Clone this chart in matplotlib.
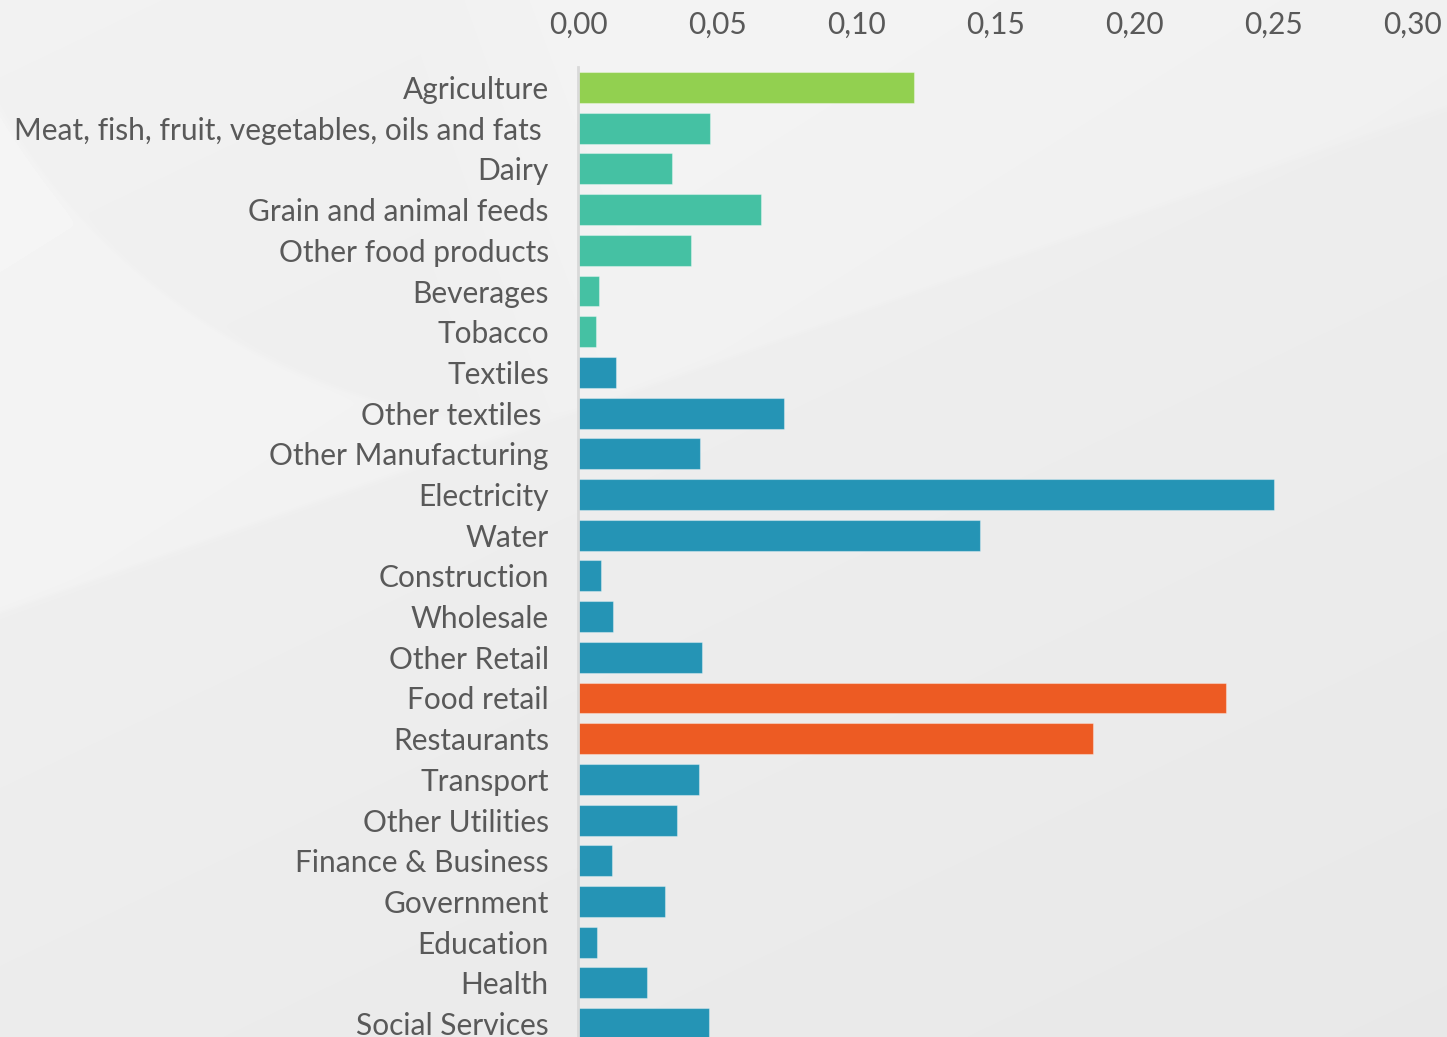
import matplotlib
matplotlib.use("Agg")
import matplotlib.pyplot as plt
import numpy as np
from matplotlib.ticker import FuncFormatter

# secteurs, du haut vers le bas
secteurs = ["Agriculture", "Meat, fish, fruit, vegetables, oils and fats ", "Dairy",
            "Grain and animal feeds", "Other food products", "Beverages", "Tobacco",
            "Textiles", "Other textiles ", "Other Manufacturing", "Electricity", "Water",
            "Construction", "Wholesale", "Other Retail", "Food retail", "Restaurants",
            "Transport", "Other Utilities", "Finance & Business", "Government",
            "Education", "Health", "Social Services"]
valeurs = [0.1206, 0.0474, 0.0337, 0.0657, 0.0405, 0.0075, 0.0065,
           0.0136, 0.0739, 0.0438, 0.2501, 0.1446,
           0.0083, 0.0126, 0.0445, 0.2329, 0.1851,
           0.0434, 0.0355, 0.0122, 0.0312,
           0.0068, 0.0248, 0.0470]
groupes = ["agri"] + ["food"] * 6 + ["other"] * 8 + ["retail"] * 2 + ["other"] * 7
couleurs = {"agri": "#92D050", "food": "#45C1A3", "other": "#2594B5", "retail": "#ED5B23"}
graduations = [0.00, 0.05, 0.10, 0.15, 0.20, 0.25, 0.30]

plt.rcParams['font.family'] = ['Lato', 'DejaVu Sans']

W, H = 1447, 1037
fig = plt.figure(figsize=(W / 100, H / 100), dpi=100)

# fond : degrade gris + vague claire (arc de cercle a gauche, biais a droite)
fond = fig.add_axes([0, 0, 1, 1])
fond.axis("off")
xx, yy = np.meshgrid(np.arange(W), np.arange(H))
base = 0.947 - 0.038 * (0.6 * yy / H + 0.4 * xx / W)
sig = lambda z: 1 / (1 + np.exp(-z))
au_dessus = sig(((339 - 0.35 * (xx - 780)) - yy) / 1.5)
hors_cercle = sig((np.hypot(xx - 560, yy + 230) - 657) / 1.5)
hors_cercle = np.maximum(hors_cercle, np.clip((xx - 420) / 200, 0, 1))
clair = au_dessus * hors_cercle
img = base + 0.016 * clair * (1 - 0.3 * xx / W)
fond.imshow(img, cmap="gray", vmin=0, vmax=1, extent=[0, W, H, 0], aspect="auto",
            interpolation="nearest")

# le graphique
ax = fig.add_axes([578 / W, 0, (1413 - 578) / W, (H - 67) / H])
ax.patch.set_alpha(0)
pos = np.arange(len(secteurs))
ax.barh(pos, valeurs, height=0.76, color=[couleurs[g] for g in groupes],
        edgecolor=(1, 1, 1, 0.35), linewidth=0.8)
ax.set_xlim(0, 0.30)
ax.set_ylim(23.33, -0.504)
ax.set_yticks(pos)
ax.set_yticklabels(secteurs)
ax.set_xticks(graduations)
ax.xaxis.set_major_formatter(FuncFormatter(lambda v, p: f"{v:.2f}".replace(".", ",")))
ax.xaxis.tick_top()
ax.tick_params(axis="both", length=0, labelsize=21.5, colors="#595959")
ax.tick_params(axis="y", pad=21)
ax.tick_params(axis="x", pad=20)
for s in ["top", "right", "bottom"]:
    ax.spines[s].set_visible(False)
ax.spines["left"].set_color("#D9D9D9")
ax.spines["left"].set_linewidth(2)

fig.savefig("out.png", dpi=100)
